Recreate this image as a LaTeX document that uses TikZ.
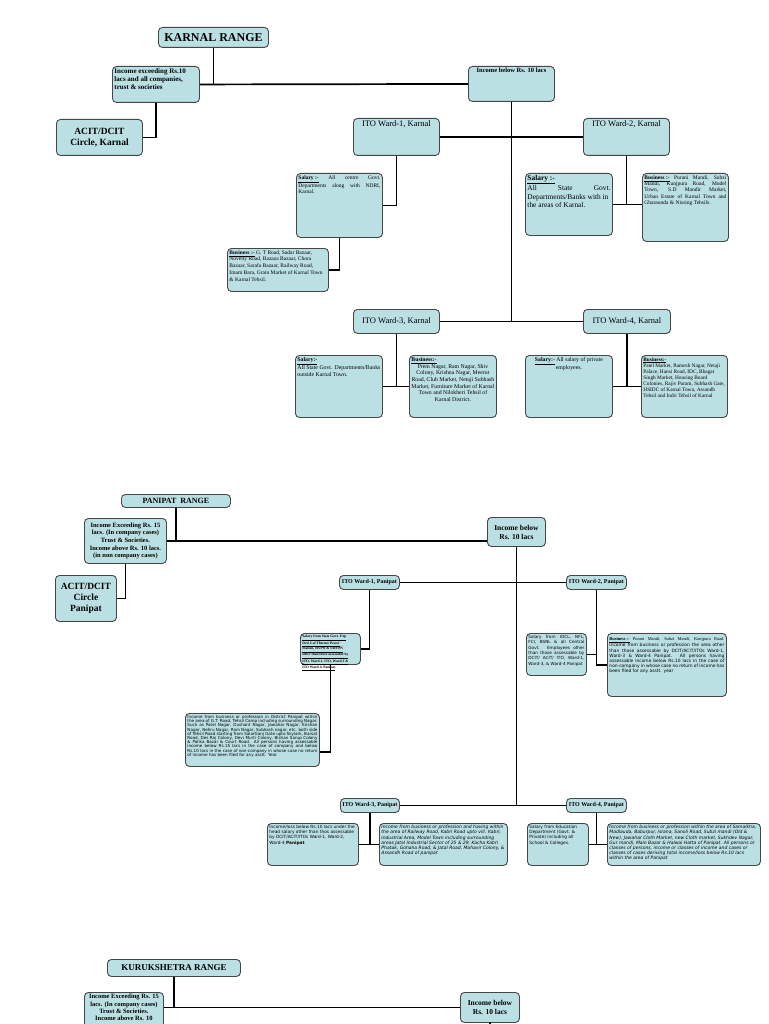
\documentclass[tikz,border=0pt]{standalone}
\usepackage{fontspec}
\setmainfont{Liberation Serif}
\newfontfamily\comicfont{DejaVu Sans}
\definecolor{boxfill}{RGB}{187,224,228}
\definecolor{boxline}{RGB}{70,70,70}
\newcommand{\fs}[2]{\fontsize{#1}{#2}\selectfont}
\newcommand{\boxtxt}[3]{\parbox[t][#2pt][t]{#1pt}{\hyphenpenalty=10000\exhyphenpenalty=10000\sloppy#3}}
\newcommand{\ul}[1]{\underline{#1}}
\tikzset{
  box/.style={draw=boxline,fill=boxfill,rounded corners=4pt,line width=0.9pt,inner sep=2pt,anchor=north west},
  wire/.style={line width=1.7pt},
}
\begin{document}
\begin{tikzpicture}[x=1pt,y=-1pt]
\useasboundingbox (0,0) rectangle (768,1024);
\clip (0,0) rectangle (768,1024);
% Karnal range
\node[box,minimum width=110pt,minimum height=20pt,inner sep=0pt,font=\fs{12}{14}\bfseries] (kr) at (158,27) {KARNAL RANGE};
\node[box] (kinc) at (112,66) {\boxtxt{83}{32}{\raggedright\fs{7}{8}\bfseries Income exceeding Rs.10\\lacs and all companies,\\trust \& societies}};
\node[box,minimum width=86pt,minimum height=36pt,align=center,font=\fs{9.5}{11}\bfseries] (kacit) at (56,119) {ACIT/DCIT\\Circle, Karnal};
\node[box] (kbelow) at (468,66) {\boxtxt{82}{31}{\centering\fs{6.5}{8}\bfseries Income below Rs. 10 lacs}};
\node[box] (kw1) at (353,118) {\boxtxt{82}{33}{\centering\fs{8.5}{10}ITO Ward-1, Karnal}};
\node[box] (kw2) at (583,118) {\boxtxt{82}{33}{\centering\fs{8.5}{10}ITO Ward-2, Karnal}};
\node[box] (ks1) at (296,173) {\boxtxt{82}{60}{\fs{5.5}{6.7}\ul{\textbf{Salary :-}} All centre Govt. Departments along with NDRI, Karnal.}};
\node[box] (kb1) at (227,248) {\boxtxt{97}{39}{\raggedright\fs{5.5}{6.7}\ul{\textbf{Business :-}} G. T Road, Sadar Bazaar, Novelty Road, Bazaza Bazaar, Chora Bazaar, Sarafa Bazaar, Railway Road, Imam Bara, Grain Market of Karnal Town \& Karnal Tehsil.}};
\node[box] (ks2) at (525,173) {\boxtxt{83}{58}{\raggedright\fs{7.4}{8.7}\ul{\textbf{Salary :-}}\\All\hfill State\hfill Govt.\\Departments/Banks with in\\the areas of Karnal.}};
\node[box] (kb2) at (642,173) {\boxtxt{82}{64}{\fs{5.5}{6.3}\ul{\textbf{Business :-}} Purani Mandi, Subzi Mandi, Kunjpura Road, Model Town, S.D Mandir Market, Urban Estate of Karnal Town and Gharaunda \& Nissing Tehsils.}};
\node[box,minimum width=86pt,minimum height=24pt,font=\fs{8.5}{10}] (kw3) at (353,309) {ITO Ward-3, Karnal};
\node[box,minimum width=87pt,minimum height=24pt,font=\fs{8.5}{10}] (kw4) at (583,309) {ITO Ward-4, Karnal};
\node[box] (ks3) at (295,355) {\boxtxt{83}{58}{\fs{5.8}{6.7}\ul{\textbf{Salary:-}}\\All State Govt. Departments/Banks outside Karnal Town.}};
\node[box] (kb3) at (409,355) {\boxtxt{83}{58}{\fs{5.8}{6.7}\ul{\textbf{Business:-}}\par{\centering Prem Nagar, Ram Nagar, Shiv Colony, Krishna Nagar, Meerut Road, Club Market, Netaji Subhash Market, Furniture Market of Karnal Town and Nilokheri Tehsil of Karnal District.\par}}};
\node[box] (ks4) at (525,355) {\boxtxt{83}{58}{\centering\fs{5.8}{6.7}\ul{\textbf{Salary:-}} All salary of private employees.}};
\node[box] (kb4) at (641,355) {\boxtxt{82}{58}{\raggedright\fs{5.3}{6}\ul{\textbf{Business:-}}\\Patel Market, Ramesh Nagar, Netaji Palace, Hansi Road, IDC, Bhagat Singh Market, Housing Board Colonies, Rajiv Puram, Subhash Gate, HSIDC of Karnal Town, Assandh Tehsil and Indri Tehsil of Karnal}};
\draw[wire] (kr.south) -- (kr.south |- kinc.east);
\draw[wire] (kinc.east) -- (kbelow.west);
\draw[wire] (kinc.south) |- (kacit.east);
\draw[wire] (kbelow.south) -- (kbelow.south |- kw3.east);
\draw[wire] (kw1.east) -- (kw2.west);
\draw[wire] (kw1.south) |- (ks1.east);
\draw[wire] (ks1.south) |- (kb1.east);
\draw[wire] (kw2.south) -- (kw2.south |- ks2.east);
\draw[wire] (ks2.east) -- (ks2.east -| kb2.west);
\draw[wire] (kw3.east) -- (kw4.west);
\draw[wire] (kw3.south) -- (kw3.south |- ks3.east);
\draw[wire] (ks3.east) -- (kb3.west);
\draw[wire] (kw4.south) -- (kw4.south |- ks4.east);
\draw[wire] (ks4.east) -- (kb4.west);
% Panipat range
\node[box,minimum width=109pt,minimum height=13pt,inner sep=0pt,font=\fs{8}{9}\bfseries] (pr) at (121,494) {PANIPAT\ \ RANGE};
\node[box,minimum width=82pt,minimum height=45pt,inner sep=1pt,align=center,font=\fs{6.5}{7.6}\bfseries] (pinc) at (84,518) {Income Exceeding Rs. 15\\lacs. (In company cases)\\Trust \& Societies.\\Income above Rs. 10 lacs.\\(in non company cases)};
\node[box,minimum width=61pt,minimum height=46pt,align=center,font=\fs{9.5}{11}\bfseries] (pacit) at (55,575) {ACIT/DCIT\\Circle\\Panipat};
\node[box,minimum width=58pt,minimum height=29pt,align=center,font=\fs{7.5}{9}\bfseries] (pbelow) at (487,517) {Income below\\Rs. 10 lacs};
\node[box,minimum width=60pt,minimum height=14pt,inner sep=0pt,font=\fs{6}{7}\bfseries] (pw1) at (339,575) {ITO Ward-1, Panipat};
\node[box,minimum width=60pt,minimum height=14pt,inner sep=0pt,font=\fs{6}{7}\bfseries] (pw2) at (566,575) {ITO Ward-2, Panipat};
\node[box] (ps1) at (300,633) {\boxtxt{56}{27}{\raggedright\fs{3.6}{4.3}\bfseries\ul{Salary from State Govt. Exp}\\\ul{Devi Lal Thermo Power}\\\ul{Station, HVPN \& UHVPN}\\\ul{other than those assessable by}\\\ul{ITO, Ward-1, ITO, Ward-3 \&}\\\ul{ITO Ward-4, Panipat}}};
\node[box] (pb1) at (185,713) {\boxtxt{130}{49}{\comicfont\fs{4.1}{4.2}Income from business or profession in District Panipat within the area of G.T. Road, Tehsil Camp including surrounding Nagar. Such as Patel Nagar, Dushant Nagar, Jawahar Nagar, Krishan Nagar, Nehru Nagar, Ram Nagar, Subhash nagar, etc. both side of Tehsil Road starting from SalarGanj Gate upto Skylark, Barsat Road, Des Raj Colony, Devi Murti Colony, Bishan Sarup Colony \& Palika Bazar \& Court Road. All persons having assessable income below Rs.15 lacs in the case of company and below Rs.10 lacs in the case of non-company in whose case no return of income has been filed for any asstt. Year.}};
\node[box] (ps2) at (526,633) {\boxtxt{56}{38}{\comicfont\fs{4.2}{5.3}Salary from IOCL, NFL, FCI, BSNL \& all Central Govt. Employees other than those assessable by DCIT/ ACIT/ ITO, Ward-1, Ward-3, \& Ward-4 Panipat}};
\node[box] (pb2) at (607,633) {\boxtxt{115}{59}{\vspace*{2pt}\fs{4.4}{5.1}\ul{\textbf{Business :-}} Purani Mandi, Subzi Mandi, Kunjpura Road. {\comicfont Income from business or profession the area other than those assessable by DCIT/ACIT/ITOs Ward-1, Ward-3 \& Ward-4 Panipat. All persons having assessable income below Rs.10 lacs in the case of non-company in whose case no return of income has been filed for any asstt. year}}};
\node[box,minimum width=59pt,minimum height=14pt,inner sep=0pt,font=\fs{6}{7}\bfseries] (pw3) at (340,798) {ITO Ward-3, Panipat};
\node[box,minimum width=60pt,minimum height=14pt,inner sep=0pt,font=\fs{6}{7}\bfseries] (pw4) at (566,798) {ITO Ward-4, Panipat};
\node[box] (ps3) at (267,823) {\boxtxt{87}{38}{\raggedright\comicfont\fs{4.3}{5.1}Income/loss below Rs.10 lacs under the head salary other than thos assessable by DCIT/ACIT/ITOs Ward-1, Ward-2, Ward-4 \textbf{Panipat}}};
\node[box] (pb3) at (379,823) {\boxtxt{124}{38}{\raggedright\comicfont\itshape\fs{4.5}{5.1}Income from business or profession and having within the area of Railway Road, Kabri Road upto vill. Kabri, Industrial Area, Model Town including surrounding areas Jatal Industrial Sector of 25 \& 29, Kacha Kabri Phatak, Gohana Road, \& Jatal Road, Mahavir Colony, \& Assandh Road of panipat}};
\node[box] (ps4) at (527,823) {\boxtxt{57}{38}{\raggedright\comicfont\fs{4.3}{5.1}Salary from Education Department (Govt. \& Private) including all School \& Colleges.}};
\node[box] (pb4) at (607,823) {\boxtxt{149}{38}{\raggedright\comicfont\itshape\fs{4.5}{5.1}Income from business or profession within the area of Samalkha, Madlauda, Baburpur, Israna, Sanoli Road, Subzi mandi (Old \& New), Jawahar Cloth Market, new Cloth market, Sukhdev Nagar, Gur mandi, Main Bazar \& Halwai Hatta of Panipat. All persons or classes of persons, income or classes of income and cases or classes of cases deriving total income/loss below Rs.10 lacs within the area of Panipat}};
\draw[wire] (pr.south) -- (pr.south |- pinc.east);
\draw[wire] (pinc.east) -- (pinc.east -| pbelow.west);
\draw[wire] (pinc.south) |- (pacit.east);
\draw[wire] (pbelow.south) -- (pbelow.south |- pw3.east);
\draw[wire] (pw1.east) -- (pw2.west);
\draw[wire] (pw1.south) |- (ps1.east);
\draw[wire] (ps1.south) |- ([yshift=-12pt]pb1.east);
\draw[wire] (pw2.south) |- (pb2.west);
\draw[wire] (ps2.east) -- (ps2.east -| pw2.south);
\draw[wire] (pw3.east) -- (pw4.west);
\draw[wire] (pw3.south) -- (pw3.south |- ps3.east);
\draw[wire] (ps3.east) -- (pb3.west);
\draw[wire] (pw4.south) -- (pw4.south |- ps4.east);
\draw[wire] (ps4.east) -- (pb4.west);
% Kurukshetra range
\node[box,minimum width=133pt,minimum height=17pt,inner sep=0pt,font=\fs{9}{10}\bfseries] (qr) at (107,959) {KURUKSHETRA RANGE};
\node[box] (qinc) at (84,992) {\boxtxt{75}{41}{\centering\fs{6.5}{7.3}\bfseries Income Exceeding Rs. 15\\lacs. (In company cases)\\Trust \& Societies.\\Income above Rs. 10}};
\node[box,minimum width=59pt,minimum height=30pt,align=center,font=\fs{7.5}{9}\bfseries] (qbelow) at (460,992) {Income below\\Rs. 10 lacs};
\coordinate (qend) at (489.5,1030);
\draw[wire] (qr.south) -- (qr.south |- qbelow.west);
\draw[wire] (qbelow.west) -- (qbelow.west -| qinc.east);
\draw[wire] (qbelow.south) -- (qbelow.south -| qend) -- (qend);
\end{tikzpicture}
\end{document}
